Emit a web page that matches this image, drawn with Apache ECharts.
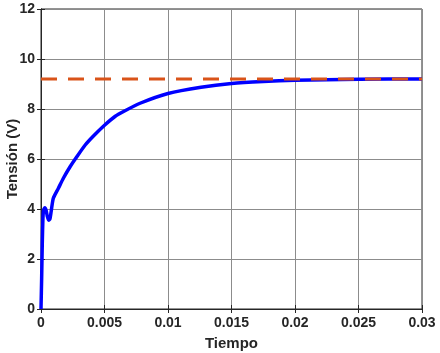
<!DOCTYPE html>
<html><head><meta charset="utf-8">
<script src="https://cdn.jsdelivr.net/npm/echarts@6/dist/echarts.min.js"></script>
<style>html,body{margin:0;padding:0;background:#fff}#c{width:440px;height:353px}</style>
</head><body><div id="c"></div>
<script>
var tiempo = [0, 0.00005, 0.0001, 0.00015, 0.0002, 0.0003, 0.0004, 0.0005, 0.0006, 0.0007, 0.0008, 0.00097, 0.00137, 0.00176, 0.00229, 0.00282, 0.00348, 0.00413, 0.005, 0.00585, 0.0065, 0.0078, 0.01, 0.0126, 0.015, 0.0175, 0.02, 0.025, 0.03];
var tension = [0, 1.2, 2.6, 3.6, 3.95, 4.05, 3.95, 3.7, 3.55, 3.6, 3.9, 4.43, 4.83, 5.23, 5.69, 6.09, 6.56, 6.92, 7.35, 7.71, 7.9, 8.23, 8.62, 8.87, 9.02, 9.1, 9.15, 9.19, 9.2];
var referenciaT = [0, 0.03];
var referenciaV = [9.2, 9.2];

var chart = echarts.init(document.getElementById('c'), null, {renderer: 'canvas'});
var lbl = {fontFamily: 'Liberation Sans, Arial, sans-serif', fontWeight: 'bold', fontSize: 14, color: '#262626'};
chart.setOption({
  animation: false,
  grid: {left: 41, right: 18, top: 9, bottom: 44, containLabel: false, outerBoundsMode: 'none', show: true, borderColor: '#262626', borderWidth: 1},
  xAxis: [{
    type: 'value', min: 0, max: 0.03, interval: 0.005,
    name: 'Tiempo', nameLocation: 'middle', nameGap: 27, nameMoveOverlap: false,
    nameTextStyle: Object.assign({}, lbl, {fontSize: 15}),
    axisLine: {show: true, lineStyle: {color: '#262626'}},
    axisTick: {show: true, inside: true, length: 4, lineStyle: {color: '#262626'}},
    axisLabel: Object.assign({}, lbl, {margin: 7, formatter: function(v){return String(+v.toFixed(3));}}),
    splitLine: {show: true, lineStyle: {color: '#8c8c8c', width: 1}}
  }, {
    type: 'value', position: 'top', min: 0, max: 0.03, interval: 0.005,
    axisLine: {show: true, lineStyle: {color: '#262626'}},
    axisTick: {show: true, inside: true, length: 4, lineStyle: {color: '#262626'}},
    axisLabel: {show: false}, splitLine: {show: false}
  }],
  yAxis: [{
    type: 'value', min: 0, max: 12, interval: 2,
    name: 'Tensión (V)', nameLocation: 'middle', nameGap: 21, nameRotate: 90, nameMoveOverlap: false,
    nameTextStyle: Object.assign({}, lbl, {fontSize: 15}),
    axisLine: {show: true, lineStyle: {color: '#262626'}},
    axisTick: {show: true, inside: true, length: 4, lineStyle: {color: '#262626'}},
    axisLabel: Object.assign({}, lbl, {margin: 6}),
    splitLine: {show: true, lineStyle: {color: '#8c8c8c', width: 1}}
  }, {
    type: 'value', position: 'right', min: 0, max: 12, interval: 2,
    axisLine: {show: true, lineStyle: {color: '#262626'}},
    axisTick: {show: true, inside: true, length: 4, lineStyle: {color: '#262626'}},
    axisLabel: {show: false}, splitLine: {show: false}
  }],
  series: [{
    type: 'line', showSymbol: false, smooth: 0.2, z: 3,
    data: tiempo.map(function(t, i){return [t, tension[i]];}),
    lineStyle: {color: '#0000ff', width: 3.5}
  }, {
    type: 'line', showSymbol: false, z: 4,
    data: referenciaT.map(function(t, i){return [t, referenciaV[i]];}),
    lineStyle: {color: '#D95319', width: 3, type: [16, 11]}
  }]
});
</script></body></html>
